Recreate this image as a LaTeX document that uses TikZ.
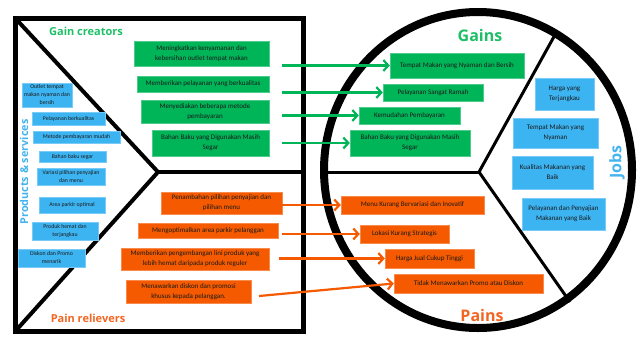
\documentclass[tikz,border=0pt]{standalone}
\usepackage{fontspec}
\setmainfont{Carlito}
\newfontfamily\titlefont{Open Sans}
\usetikzlibrary{arrows.meta}
\definecolor{boxgreen}{HTML}{00B558}
\definecolor{boxorange}{HTML}{F55A00}
\definecolor{boxblue}{HTML}{3DB4F2}
\definecolor{tgreen}{HTML}{1DBF67}
\definecolor{torange}{HTML}{F26522}
\definecolor{tblue}{HTML}{45B3EC}
\definecolor{txt}{HTML}{1A1A1A}
\tikzset{
  base/.style={inner sep=0pt, align=center, text=txt},
  prodbox/.style={base, fill=boxblue, draw=boxblue!70!white, line width=0.4pt, font=\fontsize{5.8}{8}\selectfont},
  gbox/.style={base, fill=boxgreen, draw=boxgreen!70!white, line width=0.4pt, font=\fontsize{7}{10}\selectfont},
  obox/.style={base, fill=boxorange, draw=boxorange!70!white, line width=0.4pt, font=\fontsize{7}{10}\selectfont},
  jbox/.style={base, fill=boxblue, draw=boxblue!70!white, line width=0.4pt, font=\fontsize{7}{10}\selectfont},
  ttl/.style={inner sep=0pt, font=\titlefont\bfseries},
  garrow/.style={draw=boxgreen, line width=2.2pt, -{Straight Barb[length=5pt,width=11pt]}},
  oarrow/.style={draw=boxorange, line width=2.2pt, -{Straight Barb[length=5pt,width=11pt]}},
  frame/.style={draw=black, line width=5pt},
  inner/.style={draw=black, line width=4pt},
  cinner/.style={draw=black, line width=3pt},
}
\begin{document}
\begin{tikzpicture}[x=1pt,y=-1pt]
\useasboundingbox (0,0) rectangle (644,343);
% square (value map)
\draw[frame] (15.5,18.5) rectangle (303,331);
\coordinate (sq-apex) at (158,172);
\draw[inner] (15.5,18.5) -- (sq-apex) -- (15.5,331);
\draw[inner] (sq-apex) -- (303,172);
% circle (customer profile)
\coordinate (ci-apex) at (479,172);
\draw[cinner] (322,172) -- (ci-apex);
\draw[cinner] (ci-apex) -- (556,33);
\draw[cinner] (ci-apex) -- (570,302);
\draw[black, line width=8pt] (478,170) ellipse [x radius=154pt, y radius=158pt];
% titles
\node[ttl, text=tgreen, font=\titlefont\bfseries\fontsize{11}{13}\selectfont] (tgc) at (86,31) {Gain creators};
\node[ttl, text=torange, font=\titlefont\bfseries\fontsize{11}{13}\selectfont] (tpr) at (88,318) {Pain relievers};
\node[ttl, text=tblue, rotate=90, font=\titlefont\bfseries\fontsize{10.8}{13}\selectfont] (tps) at (24,172) {Products \& services};
\node[ttl, text=tgreen, font=\titlefont\bfseries\fontsize{16}{18}\selectfont] (tg) at (480,35) {Gains};
\node[ttl, text=torange, font=\titlefont\bfseries\fontsize{16}{18}\selectfont] (tp) at (482,315) {Pains};
\node[ttl, text=tblue, rotate=90, font=\titlefont\bfseries\fontsize{16}{18}\selectfont] (tj) at (617,162) {Jobs};
% products & services
\node[prodbox, minimum width=50pt, minimum height=24pt] (p1) at (47,95) {Outlet tempat\\makan nyaman dan\\bersih};
\node[prodbox, minimum width=73pt, minimum height=13pt] (p2) at (68.5,118.5) {Pelayanan berkualitas};
\node[prodbox, minimum width=87pt, minimum height=12pt] (p3) at (76.5,137) {Metode pembayaran mudah};
\node[prodbox, minimum width=67pt, minimum height=11pt] (p4) at (72.5,157) {Bahan baku segar};
\node[prodbox, minimum width=68pt, minimum height=17pt] (p5) at (71,176.5) {Variasi pilihan penyajian\\dan menu};
\node[prodbox, minimum width=66pt, minimum height=16pt] (p6) at (72,205) {Area parkir optimal};
\node[prodbox, minimum width=66pt, minimum height=18pt] (p7) at (65,231) {Produk hemat dan\\terjangkau};
\node[prodbox, minimum width=67pt, minimum height=18pt] (p8) at (51.5,258) {Diskon dan Promo\\menarik};
% gain creators
\node[gbox, minimum width=135pt, minimum height=25pt] (c1) at (201.5,53.5) {Meningkatkan kenyamanan dan\\kebersihan outlet tempat makan};
\node[gbox, minimum width=132pt, minimum height=16pt] (c2) at (203,84) {Memberikan pelayanan yang berkualitas};
\node[gbox, minimum width=128pt, minimum height=23pt] (c3) at (205,111.5) {Menyediakan beberapa metode\\pembayaran};
\node[gbox, minimum width=117pt, minimum height=26pt] (c4) at (210.5,143) {Bahan Baku yang Digunakan Masih\\Segar};
% gains
\node[gbox, minimum width=134pt, minimum height=25pt] (g1) at (457,65.5) {Tempat Makan yang Nyaman dan Bersih};
\node[gbox, minimum width=100pt, minimum height=17pt] (g2) at (433,92.5) {Pelayanan Sangat Ramah};
\node[gbox, minimum width=101pt, minimum height=17pt] (g3) at (409.5,115.5) {Kemudahan Pembayaran};
\node[gbox, minimum width=120pt, minimum height=26pt] (g4) at (410,143) {Bahan Baku yang Digunakan Masih\\Segar};
% pain relievers
\node[obox, minimum width=121pt, minimum height=22pt] (r1) at (221.5,203) {Penambahan pilihan penyajian dan\\pilihan menu};
\node[obox, minimum width=140pt, minimum height=15pt] (r2) at (208,230.5) {Mengoptimalkan area parkir pelanggan};
\node[obox, minimum width=148pt, minimum height=22pt] (r3) at (195,259) {Memberikan pengembangan lini produk yang\\lebih hemat daripada produk reguler};
\node[obox, minimum width=125pt, minimum height=23pt] (r4) at (188.5,291.5) {Menawarkan diskon dan promosi\\khusus kepada pelanggan.};
% pains
\node[obox, minimum width=143pt, minimum height=18pt] (q1) at (412.5,205) {Menu Kurang Bervariasi dan Inovatif};
\node[obox, minimum width=89pt, minimum height=18pt] (q2) at (404.5,234) {Lokasi Kurang Strategis};
\node[obox, minimum width=89pt, minimum height=19pt] (q3) at (429.5,258.5) {Harga Jual Cukup Tinggi};
\node[obox, minimum width=149pt, minimum height=19pt] (q4) at (468.5,283.5) {Tidak Menawarkan Promo atau Diskon};
% jobs
\node[jbox, minimum width=59pt, minimum height=32pt] (j1) at (564.5,94) {Harga yang\\Terjangkau};
\node[jbox, minimum width=85pt, minimum height=30pt] (j2) at (555.5,133) {Tempat Makan yang\\Nyaman};
\node[jbox, minimum width=81pt, minimum height=33pt] (j3) at (552.5,172.5) {Kualitas Makanan yang\\Baik};
\node[jbox, minimum width=83pt, minimum height=32pt] (j4) at (563.5,214) {Pelayanan dan Penyajian\\Makanan yang Baik};
% arrow start points
\coordinate (s1) at (282,65.5);
\coordinate (s2) at (282,92.5);
\coordinate (s3) at (282,115.5);
\coordinate (s4) at (282,143);
\coordinate (s5) at (282,205);
\coordinate (s6) at (282,234);
\coordinate (s7) at (279,258.5);
\coordinate (s8) at (259,296);
\draw[garrow] (s1) -- (g1.west);
\draw[garrow] (s2) -- (g2.west);
\draw[garrow] (s3) -- (g3.west);
\draw[garrow] (s4) -- (g4.west);
\draw[oarrow] (s5) -- (q1.west);
\draw[oarrow] (s6) -- (q2.west);
\draw[oarrow] (s7) -- (q3.west);
\draw[oarrow] (s8) -- (q4.west);
\end{tikzpicture}
\end{document}
